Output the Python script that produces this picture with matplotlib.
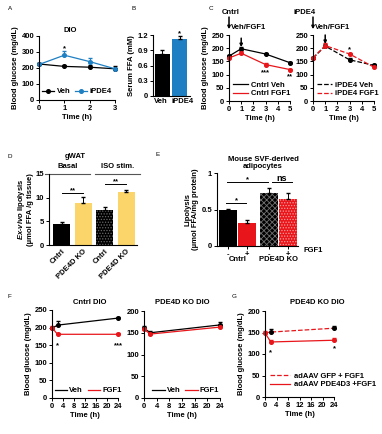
import numpy as np
import matplotlib.pyplot as plt
from matplotlib.lines import Line2D

plt.rcParams['font.family'] = ['Liberation Sans', 'DejaVu Sans']
plt.rcParams['font.weight'] = 'bold'
plt.rcParams['axes.labelweight'] = 'bold'
plt.rcParams['font.size'] = 5.5
plt.rcParams['axes.linewidth'] = 0.8
plt.rcParams['xtick.major.size'] = 2
plt.rcParams['ytick.major.size'] = 2
plt.rcParams['xtick.major.width'] = 0.7
plt.rcParams['ytick.major.width'] = 0.7
plt.rcParams['xtick.major.pad'] = 1.5
plt.rcParams['ytick.major.pad'] = 1.5
plt.rcParams['axes.labelpad'] = 1.5
plt.rcParams['mathtext.fontset'] = 'custom'
plt.rcParams['mathtext.it'] = 'Liberation Sans:italic:bold'
plt.rcParams['mathtext.rm'] = 'Liberation Sans:bold'
plt.rcParams['hatch.linewidth'] = 0.6

RED = '#e8161b'
BLUE = '#1e7fc2'
YELLOW = '#fbd56a'

# A: DIO, iPDE4 vs Veh
time_a = [0, 1, 2, 3]
veh_a = [225, 210, 205, 195]
veh_a_err = [8, 10, 12, 15]
ipde4_a = [222, 280, 240, 195]
ipde4_a_err = [10, 25, 22, 8]

# B: serum FFA
groups_b = ['Veh', 'iPDE4']
ffa_b = [0.82, 1.12]
ffa_b_err = [0.09, 0.06]

# C: glucose after Veh/FGF1
time_c = [0, 1, 3, 5]
cntrl_veh_c = [170, 198, 178, 145]
cntrl_fgf1_c = [163, 181, 138, 119]
ipde4_veh_c = [163, 208, 156, 135]
ipde4_fgf1_c = [163, 210, 178, 128]
err_c = [5, 8, 5, 4]

# D: gWAT ex-vivo lipolysis
labels_d = ['Cntrl', 'PDE4D KO', 'Cntrl', 'PDE4D KO']
lipo_d = [4.5, 8.9, 7.3, 11.3]
lipo_d_err = [0.3, 1.2, 0.8, 0.3]

# E: SVF-derived adipocytes
fgf1_e = ['-', '+', '-', '+']
lipo_e = [0.49, 0.32, 0.72, 0.65]
lipo_e_err = [0.02, 0.03, 0.08, 0.07]

# F: Cntrl DIO / PDE4D KO DIO
time_f = [0, 2, 24]
cntrl_veh_f = [198, 207, 227]
cntrl_veh_f_err = [5, 12, 4]
cntrl_fgf1_f = [200, 181, 181]
ko_veh_f = [160, 150, 168]
ko_fgf1_f = [158, 147, 163]
ko_err_f = [6, 4, 6]

# G: PDE4D KO DIO with adAAV
time_g = [0, 2, 24]
gfp_g = [149, 151, 160]
gfp_g_err = [4, 6, 4]
pde4d3_g = [149, 128, 132]
pde4d3_g_err = [4, 4, 5]

W, H = 382, 434
fig = plt.figure(figsize=(W / 100, H / 100), dpi=100)


def add_ax(x0, y0, x1, y1):
    ax = fig.add_axes([x0 / W, 1 - y1 / H, (x1 - x0) / W, (y1 - y0) / H])
    ax.spines[['top', 'right']].set_visible(False)
    return ax


def ftext(x, y, s, **kw):
    return fig.text(x / W, 1 - y / H, s, **kw)


def upper(err):
    return [np.zeros(len(err)), err]


def letter(x, y, s):
    ftext(x, y, s, fontsize=4.5, weight='normal', va='center')


def line_err(ax, x, y, err, color, ls='-', mcolor=None):
    ax.errorbar(x, y, yerr=upper(err), color=color, ls=ls, lw=0.9,
                marker='o', ms=2.6, mfc=mcolor or color, mec=mcolor or color,
                ecolor=mcolor or color, elinewidth=0.7, capsize=1.3, clip_on=False)


# ---------- A ----------
ax = add_ax(39, 36, 115, 100)
line_err(ax, time_a, veh_a, veh_a_err, 'black')
line_err(ax, time_a, ipde4_a, ipde4_a_err, BLUE)
ax.set_xlim(0, 3)
ax.set_ylim(0, 400)
ax.set_xticks(time_a)
ax.set_yticks([0, 100, 200, 300, 400])
ax.set_xlabel('Time (h)')
ax.set_ylabel('Blood glucose (mg/dL)')
ax.text(1, 310, '*', ha='center')
hA = [Line2D([], [], color='black', marker='o', ms=2.6, lw=0.9),
      Line2D([], [], color=BLUE, marker='o', ms=2.6, lw=0.9)]
ax.legend(hA, ['Veh', 'iPDE4'], loc='lower center', ncol=2, frameon=False,
          handlelength=1.6, columnspacing=0.6, handletextpad=0.3,
          bbox_to_anchor=(0.5, 0.0), borderaxespad=0.2)
ftext(70, 30, 'DIO', ha='center', va='center')
letter(8, 9, 'A')

# ---------- B ----------
ax = add_ax(153, 35, 190, 96)
ax.bar([0, 1], ffa_b, width=0.85, color=['black', BLUE])
ax.errorbar([0, 1], ffa_b, yerr=upper(ffa_b_err), fmt='none', ecolor='black',
            elinewidth=0.7, capsize=1.3)
ax.set_xlim(-0.55, 1.6)
ax.set_ylim(0, 1.2)
ax.set_yticks([0, 0.3, 0.6, 0.9, 1.2])
ax.set_yticklabels(['0', '0.3', '0.6', '0.9', '1.2'])
ax.set_xticks([])
trb = ax.get_xaxis_transform()
ax.text(-0.12, -0.04, groups_b[0], transform=trb, ha='center', va='top')
ax.text(1.15, -0.04, groups_b[1], transform=trb, ha='center', va='top')
ax.set_ylabel('Serum FFA (mM)')
ax.text(1, 1.19, '*', ha='center')
letter(132, 9, 'B')

# ---------- C ----------
letter(209, 9, 'C')
for i, (veh, fgf, ls, names, title, x0) in enumerate([
        (cntrl_veh_c, cntrl_fgf1_c, '-', ['Cntrl Veh', 'Cntrl FGF1'], 'Cntrl', 229),
        (ipde4_veh_c, ipde4_fgf1_c, '--', ['iPDE4 Veh', 'iPDE4 FGF1'], 'iPDE4', 313)]):
    ax = add_ax(x0, 35, x0 + 61, 101)
    line_err(ax, time_c, veh, err_c, 'black', ls=ls)
    line_err(ax, time_c, fgf, err_c, RED, ls=ls)
    ax.set_xlim(0, 5)
    ax.set_ylim(0, 250)
    ax.set_xticks(range(6))
    ax.set_yticks([0, 50, 100, 150, 200, 250])
    ax.set_xlabel('Time (h)')
    if i == 0:
        ax.set_ylabel('Blood glucose (mg/dL)')
    ax.annotate('', xy=(0, 272), xytext=(0, 318), annotation_clip=False,
                arrowprops=dict(arrowstyle='-|>', lw=1.1, color='black',
                                mutation_scale=4, shrinkA=0, shrinkB=0))
    ax.text(0.2, 278, 'Veh/FGF1', va='center', clip_on=False)
    top = max(veh[1], fgf[1])
    ax.annotate('', xy=(1, top + 6), xytext=(1, top + 40), annotation_clip=False,
                arrowprops=dict(arrowstyle='-|>', lw=1.1, color='black',
                                mutation_scale=4, shrinkA=0, shrinkB=0))
    hs = [Line2D([], [], color='black', lw=0.9, ls=ls),
          Line2D([], [], color=RED, lw=0.9, ls=ls)]
    ax.legend(hs, names, loc='lower left', frameon=False, handlelength=2.0,
              handletextpad=0.4, labelspacing=0.15, borderaxespad=0.1,
              bbox_to_anchor=(0.0, 0.0))
    ftext(x0 - 7 if i == 0 else x0 - 20, 12, title, va='center')
    if i == 0:
        ax.text(3, 100, '***', ha='center')
        ax.text(5, 85, '**', ha='center', clip_on=False)
    else:
        ax.text(3, 188, '*', ha='center')

# ---------- D ----------
ax = add_ax(49, 174, 137, 245)
xd = [0, 1, 2, 3]
ax.bar(xd, lipo_d, width=0.79, color=['black', YELLOW, 'black', YELLOW])
ax.bar([2], [lipo_d[2]], width=0.79, color='black', edgecolor='#6a6a6a',
       hatch='......', linewidth=0)
ax.errorbar(xd, lipo_d, yerr=upper(lipo_d_err), fmt='none', ecolor='black',
            elinewidth=0.7, capsize=1.3)
ax.set_xlim(-0.6, 3.5)
ax.set_ylim(0, 15)
ax.set_yticks([0, 5, 10, 15])
ax.set_xticks(xd)
ax.set_xticklabels(labels_d, rotation=45, ha='right', rotation_mode='anchor')
ax.tick_params(axis='x', length=0, pad=2)
ax.set_ylabel('$\\it{Ex}$-$\\it{vivo}$ lipolysis\n(µmol FFA /g tissue)',
              linespacing=1.1, labelpad=1)
ax.plot([0, 1], [11.0, 11.0], color='black', lw=0.7)
ax.text(0.5, 11.2, '**', ha='center')
ax.plot([2, 3], [12.9, 12.9], color='black', lw=0.7)
ax.text(2.5, 13.1, '**', ha='center')
ax.plot([-0.79, 1.31], [15.1, 15.1], color='#555555', lw=0.8, clip_on=False)
ax.plot([1.54, 3.63], [15.1, 15.1], color='#555555', lw=0.8, clip_on=False)
ax.text(0.26, 16.2, 'Basal', ha='center')
ax.text(2.6, 16.2, 'ISO stim.', ha='center')
ftext(75, 157, 'gWAT', ha='center', va='center')
letter(8, 156, 'D')

# ---------- E ----------
ax = add_ax(217, 173, 298, 246)
xe = [0, 1, 2.15, 3.15]
ax.bar(xe, lipo_e, width=0.95, color=['black', RED, 'black', RED])
ax.bar([xe[2]], [lipo_e[2]], width=0.95, color='black', edgecolor='#707070',
       hatch='xxxxxx', linewidth=0)
ax.bar([xe[3]], [lipo_e[3]], width=0.95, color=RED, edgecolor='#ff9a9a',
       hatch='......', linewidth=0)
ax.errorbar(xe, lipo_e, yerr=upper(lipo_e_err), fmt='none', ecolor='black',
            elinewidth=0.7, capsize=1.3)
ax.set_xlim(-0.58, 3.68)
ax.set_ylim(0, 1)
ax.set_yticks([0, 0.5, 1])
ax.set_yticklabels(['0', '0.5', '1'])
ax.set_xticks(xe)
ax.set_xticklabels(fgf1_e)
ax.tick_params(axis='x', pad=1.5)
ax.set_ylabel('Lipolysis\n(µmol FFA/mg protein)', linespacing=1.1)
tr = ax.get_xaxis_transform()
ax.text(0.5, -0.19, 'Cntrl', transform=tr, ha='center', va='center')
ax.text(2.65, -0.19, 'PDE4D KO', transform=tr, ha='center', va='center')
ax.text(3.95, -0.065, 'FGF1', transform=tr, ha='left', va='center')
ax.plot([-0.05, 2.1], [0.87, 0.87], color='black', lw=0.7)
ax.text(1.02, 0.885, '*', ha='center')
ax.plot([2.31, 3.37], [0.87, 0.87], color='black', lw=0.7)
ax.text(2.84, 0.885, 'ns', ha='center', fontsize=6.5)
ax.plot([-0.11, 0.95], [0.59, 0.59], color='black', lw=0.7)
ax.text(0.42, 0.605, '*', ha='center')
ftext(263, 163, 'Mouse SVF-derived\nadipocytes', ha='center', va='center',
      linespacing=1.15)
letter(155, 154, 'E')

# ---------- F ----------
letter(8, 297, 'F')
hF = [Line2D([], [], color='black', lw=0.9), Line2D([], [], color=RED, lw=0.9)]
ax = add_ax(52, 310, 118, 398)
line_err(ax, time_f, cntrl_veh_f, cntrl_veh_f_err, 'black')
line_err(ax, time_f, cntrl_fgf1_f, [4, 3, 3], RED)
ax.set_xlim(0, 24)
ax.set_ylim(0, 250)
ax.set_xticks(range(0, 25, 4))
ax.set_yticks(range(0, 251, 50))
ax.set_xlabel('Time (h)')
ax.set_ylabel('Blood glucose (mg/dL)')
ax.text(2, 145, '*', ha='center')
ax.text(24, 145, '***', ha='center', clip_on=False)
ax.legend(hF, ['Veh', 'FGF1'], loc='lower center', ncol=2, frameon=False,
          handlelength=1.6, columnspacing=0.6, handletextpad=0.3,
          borderaxespad=0.1, bbox_to_anchor=(0.55, 0.0))
ftext(90, 303, 'Cntrl DIO', ha='center', va='center')

ax = add_ax(144, 311, 220, 398)
line_err(ax, time_f, ko_veh_f, ko_err_f, 'black')
line_err(ax, time_f, ko_fgf1_f, [3, 3, 3], RED)
ax.set_xlim(0, 24)
ax.set_ylim(0, 200)
ax.set_xticks(range(0, 25, 4))
ax.set_yticks(range(0, 201, 50))
ax.set_xlabel('Time (h)')
ax.legend(hF, ['Veh', 'FGF1'], loc='lower center', ncol=2, frameon=False,
          handlelength=1.6, columnspacing=0.6, handletextpad=0.3,
          borderaxespad=0.1, bbox_to_anchor=(0.55, 0.0))
ftext(182, 303, 'PDE4D KO DIO', ha='center', va='center')

# ---------- G ----------
letter(232, 297, 'G')
ax = add_ax(265, 311, 334, 397)
ax.plot(time_g, gfp_g, color=RED, ls='--', lw=0.9, clip_on=False)
ax.errorbar(time_g[1:], gfp_g[1:], yerr=upper(gfp_g_err[1:]), fmt='o', ms=2.6,
            color='black', elinewidth=0.7, capsize=1.3, clip_on=False)
line_err(ax, time_g, pde4d3_g, pde4d3_g_err, RED)
ax.set_xlim(0, 24)
ax.set_ylim(0, 200)
ax.set_xticks(range(0, 25, 4))
ax.set_yticks(range(0, 201, 50))
ax.set_xlabel('Time (h)')
ax.set_ylabel('Blood glucose (mg/dL)')
ax.text(2, 100, '*', ha='center')
ax.text(24, 108, '*', ha='center', clip_on=False)
hG = [Line2D([], [], color=RED, lw=0.9, ls='--'), Line2D([], [], color=RED, lw=0.9)]
ax.legend(hG, ['adAAV GFP + FGF1', 'adAAV PDE4D3 +FGF1'], loc='lower left',
          frameon=False, handlelength=2.6, handletextpad=0.5, labelspacing=0.15,
          borderpad=0, borderaxespad=0, bbox_to_anchor=(0.07, 0.1))
ftext(317, 303, 'PDE4D KO DIO', ha='center', va='center')

fig.savefig('out.png', dpi=100)
